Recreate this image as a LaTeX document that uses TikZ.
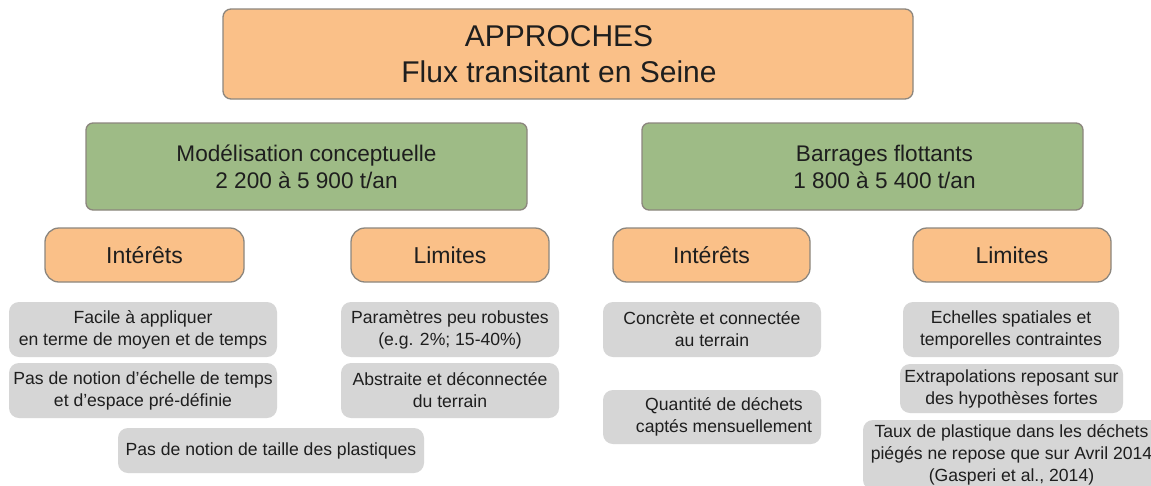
\documentclass[tikz,border=0pt]{standalone}
\usepackage{fontspec}
\setmainfont{Liberation Sans}

\definecolor{boxorange}{RGB}{250,192,136}
\definecolor{boxgreen}{RGB}{158,187,134}
\definecolor{boxgrey}{RGB}{214,214,214}
\definecolor{boxedge}{RGB}{140,134,126}
\definecolor{txtdark}{RGB}{30,30,30}

\tikzset{
  titlebox/.style={draw=boxedge, line width=1.3pt, fill=boxorange, rounded corners=8pt,
    align=center, inner sep=0pt, text=txtdark, font=\fontsize{30}{36}\selectfont},
  approche/.style={draw=boxedge, line width=1.3pt, fill=boxgreen, rounded corners=7pt,
    align=center, inner sep=0pt, text=txtdark, font=\fontsize{22.6}{27}\selectfont,
    minimum height=87pt},
  critere/.style={draw=boxedge, line width=1.3pt, fill=boxorange, rounded corners=14pt,
    align=center, inner sep=0pt, text=txtdark, font=\fontsize{23}{28}\selectfont,
    minimum width=198pt, minimum height=54pt},
  detail/.style={fill=boxgrey, rounded corners=10pt, align=center, inner sep=0pt,
    text=txtdark, font=\fontsize{17.6}{22}\selectfont, minimum height=55pt}
}

\begin{document}
\begin{tikzpicture}[x=1pt,y=-1pt]

      \clip (0,0) rectangle (1151,485);
      \fill [white] (0,0) rectangle (1151,485);

      % The title box.
      \node [titlebox, minimum width=690pt, minimum height=90pt] (approches) at (568,54)
      {APPROCHES\hspace*{18pt}\\Flux transitant en Seine\hspace*{18pt}};

      % The two approaches.
      \node [approche, minimum width=441pt] (modele) at (306.5,166.5)
      {Modélisation conceptuelle\\2 200 à 5 900 t/an};
      \node [approche, minimum width=441pt] (barrage) at (862.5,166.5)
      {\hspace*{44pt}Barrages flottants\\\hspace*{44pt}1 800 à 5 400 t/an};

      % Interests and limits, left.
      \node [critere, minimum width=199pt] (interetsA) at (144.5,255) {Intérêts};
      \node [critere] (limitesA) at (450,255) {Limites};

      % Interests and limits, right.
      \node [critere, minimum width=197pt] (interetsB) at (711.5,255) {Intérêts};
      \node [critere] (limitesB) at (1012,255) {Limites};

      % The modelling details.
      \node [detail, minimum width=268pt] (facile) at (143,329.5)
      {Facile à appliquer\\en terme de moyen et de temps};
      \node [detail, minimum width=268pt] (echelle) at (143,390.5)
      {Pas de notion d’échelle de temps\\et d’espace pré-définie};
      \node [detail, minimum width=218pt] (param) at (450,329.5)
      {Paramètres peu robustes\\(e.g. 2\%; 15-40\%)};
      \node [detail, minimum width=218pt] (abstraite) at (450,390.5)
      {Abstraite et déconnectée\\du terrain};
      \node [detail, minimum width=306pt, minimum height=45pt] (taille) at (271,450.5)
      {Pas de notion de taille des plastiques};

      % The floating barrier details.
      \node [detail, minimum width=218pt] (concrete) at (712,329.5)
      {Concrète et connectée\\au terrain};
      \node [detail, minimum width=218pt, minimum height=54pt] (quantite) at (712,417)
      {\hspace*{24pt}Quantité de déchets\\\hspace*{24pt}captés mensuellement};
      \node [detail, minimum width=216pt] (spatiale) at (1011,329.5)
      {Echelles spatiales et\\temporelles contraintes};
      \node [detail, minimum width=223pt, minimum height=49pt] (extrapol) at (1011.5,388.5)
      {Extrapolations reposant sur\\des hypothèses fortes};
      \node [detail, minimum width=297pt, minimum height=70pt] (taux) at (1011.5,455)
      {Taux de plastique dans les déchets\\piégés ne repose que sur Avril 2014\\(Gasperi et al., 2014)};

    \end{tikzpicture}
\end{document}
